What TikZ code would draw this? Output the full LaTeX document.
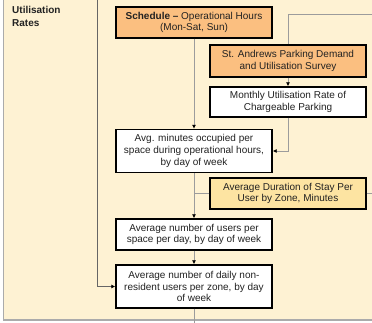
\documentclass[tikz,border=0pt]{standalone}
\usepackage{fontspec}
\setmainfont{Liberation Sans}
\usetikzlibrary{arrows.meta}
\definecolor{panel}{HTML}{FEF2D3}
\definecolor{orangebox}{HTML}{FBBF80}
\definecolor{yellowbox}{HTML}{FDE4A2}
\definecolor{wiregray}{HTML}{9C9C9C}
\definecolor{framegray}{HTML}{ABABAB}
\definecolor{inkgray}{HTML}{222222}
\begin{document}
\begin{tikzpicture}[x=1pt,y=-1pt,
  box/.style={draw=black, line width=1.4pt, fill=white, minimum width=156pt,
    inner sep=0pt, align=center, text=inkgray,
    font=\fontsize{10}{11.7}\selectfont},
  wire/.style={draw=wiregray, line width=0.9pt},
  arr/.style={wire, -{Latex[length=4pt,width=4pt,color=black]}}]
\useasboundingbox (0,0) rectangle (372,323);

% panel background and frame
\fill[panel] (3.5,0) rectangle (372,320);
\draw[framegray, line width=1.2pt] (3.5,0) -- (3.5,320) -- (372,320);

% section label
\node[anchor=north west, inner sep=0pt, align=left, text=inkgray,
  font=\fontsize{10}{13}\selectfont\bfseries] (lbl) at (12,6.5) {Utilisation\\Rates};

% boxes
\node[box, fill=orangebox, minimum height=31pt] (sched) at (194,22.5)
  {\textbf{Schedule –} Operational Hours\\(Mon-Sat, Sun)};
\node[box, fill=orangebox, minimum height=32pt] (survey) at (288,61)
  {St. Andrews Parking Demand\\and Utilisation Survey};
\node[box, minimum height=30pt] (monthly) at (288,102)
  {Monthly Utilisation Rate of\\Chargeable Parking};
\node[box, minimum height=43pt] (mins) at (194,151)
  {Avg. minutes occupied per\\space during operational hours,\\by day of week};
\node[box, fill=yellowbox, minimum height=31pt] (dur) at (288,193.5)
  {Average Duration of Stay Per\\User by Zone, Minutes};
\node[box, minimum height=31pt] (users) at (194,234.5)
  {Average number of users per\\space per day, by day of week};
\node[box, minimum height=43pt] (daily) at (194,286.5)
  {Average number of daily non-\\resident users per zone, by day\\of week};

% loose ends of connectors
\coordinate (inTop) at (372,14);
\coordinate (inLeft) at (97,0);
\coordinate (outRight) at (372,193.5);
\coordinate (outBottom) at (194,323);

% connectors
\draw[arr] (sched.south) -- (mins.north);
\draw[arr] (mins.south) -- (users.north);
\draw[arr] (users.south) -- (daily.north);
\draw[wire] (daily.south) -- (outBottom);
\draw[wire] (inTop) -| (survey.north);
\draw[arr] (survey.south) -- (monthly.north);
\draw[arr] (monthly.south) |- (mins.east);
\draw[wire] (dur.west) -- (dur.west -| mins.south);
\draw[wire] (dur.east) -- (outRight);
\draw[arr, draw=gray!80!black] (inLeft) |- (daily.west);
\end{tikzpicture}
\end{document}
